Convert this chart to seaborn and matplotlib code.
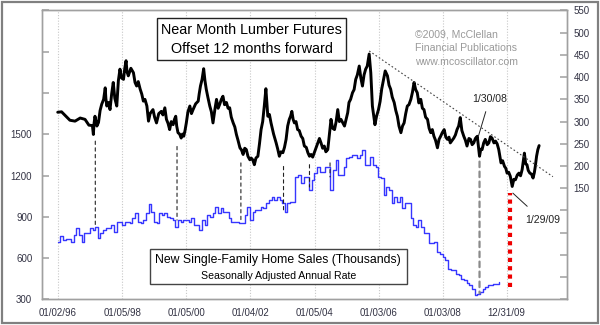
import numpy as np
import pandas as pd
import matplotlib
matplotlib.use("Agg")
import matplotlib.pyplot as plt
import matplotlib.dates as mdates
import seaborn as sns
from matplotlib.patches import Rectangle, ConnectionPatch

# ---------------- data ----------------
# Near month lumber futures, plotted 12 months forward (decimal year, $)
lumber_year = [
    1996.00, 1996.12, 1996.23, 1996.38, 1996.54, 1996.70, 1996.85, 1996.97,
    1997.08, 1997.11, 1997.13, 1997.16, 1997.22, 1997.27, 1997.32, 1997.37, 1997.43, 1997.48, 1997.50,
    1997.53, 1997.58, 1997.63, 1997.68, 1997.73, 1997.78, 1997.84, 1997.89, 1997.94, 1997.99,
    1998.05, 1998.09, 1998.13, 1998.16, 1998.20, 1998.28, 1998.36, 1998.41, 1998.46, 1998.51,
    1998.57, 1998.62, 1998.67, 1998.72, 1998.78, 1998.83, 1998.88, 1998.93, 1998.97,
    1999.02, 1999.08, 1999.15, 1999.23, 1999.28, 1999.34, 1999.39, 1999.44, 1999.49, 1999.54,
    1999.60, 1999.64, 1999.68, 1999.71, 1999.75, 1999.80, 1999.85, 1999.89, 1999.93, 1999.97,
    2000.01, 2000.06, 2000.12, 2000.17, 2000.22, 2000.30, 2000.38, 2000.41, 2000.45, 2000.50,
    2000.55, 2000.59, 2000.63, 2000.68, 2000.74, 2000.79, 2000.84, 2000.90, 2000.95,
    2001.00, 2001.05, 2001.10, 2001.15, 2001.20, 2001.26, 2001.31, 2001.36, 2001.41, 2001.47,
    2001.52, 2001.57, 2001.62, 2001.68, 2001.73, 2001.78, 2001.83, 2001.88, 2001.93, 2001.99,
    2002.03, 2002.08, 2002.13, 2002.18, 2002.24, 2002.29, 2002.34, 2002.39, 2002.44, 2002.49,
    2002.55, 2002.60, 2002.65, 2002.73, 2002.81, 2002.86, 2002.91, 2002.96,
    2003.02, 2003.07, 2003.12, 2003.17, 2003.22, 2003.26, 2003.30, 2003.34, 2003.38, 2003.43,
    2003.48, 2003.53, 2003.59, 2003.64, 2003.69, 2003.75, 2003.80, 2003.85, 2003.90, 2003.95,
    2004.00, 2004.05, 2004.11, 2004.16, 2004.21, 2004.26, 2004.31, 2004.36, 2004.42, 2004.47,
    2004.52, 2004.57, 2004.63, 2004.68, 2004.73, 2004.78, 2004.83, 2004.88, 2004.94, 2004.99,
    2005.04, 2005.08, 2005.13, 2005.19, 2005.24, 2005.29, 2005.34, 2005.40, 2005.45, 2005.50,
    2005.55, 2005.60, 2005.65, 2005.71, 2005.76, 2005.81, 2005.89, 2005.94,
    2006.00, 2006.05, 2006.10, 2006.15, 2006.21, 2006.28, 2006.33, 2006.38, 2006.43, 2006.49,
    2006.54, 2006.59, 2006.64, 2006.70, 2006.75, 2006.80, 2006.85, 2006.90, 2006.95,
    2007.01, 2007.06, 2007.11, 2007.16, 2007.21, 2007.26, 2007.32, 2007.37, 2007.42, 2007.47,
    2007.53, 2007.58, 2007.63, 2007.68, 2007.73, 2007.78, 2007.84, 2007.89, 2007.94, 2007.99,
    2008.05, 2008.10, 2008.15, 2008.20, 2008.24, 2008.30, 2008.35, 2008.40, 2008.45, 2008.50,
    2008.55, 2008.60, 2008.66, 2008.71, 2008.76, 2008.82, 2008.87, 2008.92, 2008.97,
    2009.02, 2009.08, 2009.15, 2009.19, 2009.23, 2009.28, 2009.33, 2009.39, 2009.44, 2009.49,
    2009.54, 2009.60, 2009.65, 2009.70, 2009.75, 2009.82, 2009.87, 2009.93, 2009.97,
    2010.01, 2010.06, 2010.11, 2010.17, 2010.22, 2010.27, 2010.33, 2010.38, 2010.43, 2010.48,
    2010.55, 2010.59, 2010.63, 2010.67, 2010.72, 2010.77, 2010.82, 2010.86, 2010.89, 2010.93,
    2010.97, 2011.01]
lumber_price = [
    321, 322, 314, 303, 301, 308, 305, 292,
    291, 271, 295, 312, 290, 298, 325, 339, 350, 376, 352,
    335, 343, 327, 362, 388, 352, 335, 392, 418, 398,
    395, 420, 437, 412, 403, 420, 410, 388, 380, 390,
    373, 362, 346, 350, 335, 301, 318, 323, 327,
    310, 297, 318, 323, 315, 331, 305, 296, 282, 300,
    293, 305, 312, 290, 275, 272, 263, 272, 267, 280,
    297, 322, 335, 318, 327, 340, 346, 362, 380, 395,
    419, 392, 373, 355, 335, 322, 297, 328, 350,
    330, 339, 350, 357, 338, 343, 330, 331, 310, 297,
    288, 271, 258, 241, 236, 226, 240, 237, 222, 214,
    218, 214, 203, 218, 222, 250, 282, 300, 335, 374,
    312, 316, 297, 272, 252, 238, 222, 232,
    230, 242, 260, 290, 305, 312, 323, 305, 297, 300,
    282, 280, 267, 262, 245, 242, 230, 222, 226, 220,
    230, 240, 252, 262, 252, 240, 245, 232, 237, 270,
    305, 285, 282, 300, 327, 300, 305, 298, 290, 305,
    320, 343, 350, 365, 372, 395, 405, 425, 398, 380,
    405, 418, 425, 452, 410, 335, 293, 312,
    327, 345, 373, 392, 414, 403, 382, 373, 355, 343,
    325, 312, 290, 275, 290, 297, 318, 335, 338,
    350, 366, 388, 372, 365, 342, 350, 330, 327, 310,
    305, 285, 275, 282, 267, 258, 241, 260, 267, 275,
    282, 265, 260, 265, 252, 258, 263, 270, 282, 290,
    309, 280, 267, 258, 245, 262, 260, 248, 252,
    262, 267, 222, 238, 237, 252, 260, 248, 252, 266,
    263, 252, 256, 250, 237, 207, 212, 199, 195,
    184, 186, 177, 154, 170, 169, 180, 184, 178, 192,
    229, 205, 203, 190, 184, 182, 173, 185, 199, 222,
    237, 246]

# New single-family home sales, SAAR thousands, monthly from Jan 1996
sales_start = "1996-01-01"
sales = [718, 759, 730, 735, 735, 718, 767, 820, 767, 718, 779, 779,
         815, 803, 827, 743, 779, 803, 815, 815, 840, 791, 864, 864,
         840, 864, 864, 852, 888, 925, 864, 852, 876, 925, 990, 936,
         864, 852, 925, 912, 925, 900, 888, 876, 827, 876, 864, 876,
         876, 864, 888, 840, 840, 803, 876, 840, 912, 900, 925, 973,
         925, 961, 936, 936, 888, 864, 864, 864, 852, 852, 912, 973,
         880, 936, 949, 949, 973, 961, 998, 1022, 1046, 1022, 1046, 1022,
         998, 936, 998, 1010, 1010, 1192, 1204, 1143, 1192, 1192, 1095, 1168,
         1217, 1265, 1228, 1228, 1265, 1265, 1095, 1241, 1314, 1204, 1204, 1265,
         1326, 1338, 1350, 1350, 1326, 1350, 1386, 1277, 1277, 1338, 1277, 1265,
         1192, 1180, 1058, 1119, 1095, 998, 1046, 1010, 1046, 961, 998, 998,
         888, 840, 827, 876, 827, 779, 779, 706, 706, 718, 645, 633,
         609, 584, 524, 511, 510, 487, 475, 451, 438, 419, 402, 378,
         330, 342, 353, 378, 390, 402, 402, 414, 414, 426]

# dashed connectors: lumber low -> home sales low
conn_year = [1997.17, 1999.72, 2001.71, 2003.04, 2003.85, 2004.49]
conn_lumber = [256, 244, 207, 199, 203, 207]
conn_sales = [827, 876, 863, 948, 1117, 1190]
conn2_year, conn2_lumber, conn2_sales = 2009.15, 210, 344

# red dotted marker (left axis units)
red_year, red_lo, red_hi = 2010.10, 391, 1070
# trend line (right axis units)
trend_year = [2005.71, 2011.44]
trend_val = [459, 176]

tick_dates = ["1996-01-02", "1998-01-05", "2000-01-05", "2002-01-04",
              "2004-01-05", "2006-01-03", "2008-01-03", "2009-12-31"]
tick_labels = ["01/02/96", "01/05/98", "01/05/00", "01/04/02",
               "01/05/04", "01/03/06", "01/03/08", "12/31/09"]
left_ticks = [300, 600, 900, 1200, 1500, 1800, 2100, 2400]
right_ticks = list(range(-100, 551, 50))

assert len(lumber_year) == len(lumber_price)


def yr2dt(v):
    v = np.atleast_1d(np.asarray(v, float))
    out = []
    for x in v:
        yi = int(np.floor(x))
        s, e = pd.Timestamp(yi, 1, 1), pd.Timestamp(yi + 1, 1, 1)
        out.append(s + (e - s) * (x - yi))
    return pd.to_datetime(out)


def yr2num(v):
    return float(mdates.date2num(yr2dt(v)[0].to_pydatetime()))


# ---------------- plot ----------------
sns.set_theme(style="white")
plt.rcParams['font.family'] = ['Liberation Sans', 'DejaVu Sans']

fig = plt.figure(figsize=(6, 3.25), dpi=100)
ax = fig.add_axes([0.07, 0.079, 0.8745, 0.8887])
ax2 = ax.twinx()

sales_dates = pd.date_range(sales_start, periods=len(sales), freq="MS")
sns.lineplot(x=sales_dates, y=sales, ax=ax, drawstyle="steps-post",
             color="#3636ff", lw=1.0)
lumber_dates = yr2dt(lumber_year)
sns.lineplot(x=lumber_dates, y=lumber_price, ax=ax2, color="black", lw=2.1, sort=False)

ax.set_xlim(yr2num(1995.51), yr2num(2011.87))
ax.set_ylim(300, 2400)
ax2.set_ylim(-100, 550)

ax.set_xticks(mdates.date2num(pd.to_datetime(tick_dates).to_pydatetime()))
ax.set_xticklabels(tick_labels)
ax.set_yticks(left_ticks)
ax.set_yticklabels([str(t) if t <= 1500 else "" for t in left_ticks])
ax2.set_yticks(right_ticks)
ax2.set_yticklabels([str(t) if t >= 150 else "" for t in right_ticks])
ax.set_xlabel("")
ax.set_ylabel("")
ax2.set_ylabel("")

ax.grid(axis="x", color="#c8c8c8", linestyle=(0, (1, 1.5)), lw=0.8)
ax.grid(axis="y", visible=False)
ax2.grid(False)

lab_col = "#333344"
ax.tick_params(axis="x", length=0, pad=6, labelsize=7, labelcolor=lab_col)
ax.tick_params(axis="y", direction="in", length=5, color="#aaaaaa", pad=7,
               labelsize=7, labelcolor=lab_col)
ax2.tick_params(axis="y", direction="in", length=5, color="#aaaaaa", pad=5,
                labelsize=7, labelcolor=lab_col)
for a in (ax, ax2):
    for sp in a.spines.values():
        sp.set_color("#a0a0a0")
        sp.set_linewidth(1.0)

# connectors
for yv, lv, sv in zip(conn_year, conn_lumber, conn_sales):
    d = yr2num(yv)
    cp = ConnectionPatch(xyA=(d, lv), coordsA=ax2.transData,
                         xyB=(d, sv), coordsB=ax.transData,
                         color="#222222", lw=0.8, linestyle=(0, (3, 3)))
    ax2.add_artist(cp)
d2 = yr2num(conn2_year)
cp = ConnectionPatch(xyA=(d2, conn2_lumber), coordsA=ax2.transData,
                     xyB=(d2, conn2_sales), coordsB=ax.transData,
                     color="#8a8a8a", lw=1.6, linestyle=(0, (2.5, 2)))
ax2.add_artist(cp)

ax.vlines(yr2num(red_year), red_lo, red_hi, color="#ee0000", lw=3,
          linestyles=[(0, (1, 1))])
ax2.plot([yr2num(t) for t in trend_year], trend_val, color="#444444", lw=0.8,
         linestyle=(0, (1.5, 2)))

ax2.annotate("1/30/08", xy=(yr2num(2009.11), 266), xytext=(yr2num(2009.46), 350),
             ha="center", va="center", fontsize=7.6, color="#222222",
             arrowprops=dict(arrowstyle="-", color="#222222", lw=0.7, shrinkA=3, shrinkB=0))
ax2.annotate("1/29/09", xy=(yr2num(2010.19), 139), xytext=(yr2num(2011.11), 78),
             ha="center", va="center", fontsize=7.6, color="#222222",
             arrowprops=dict(arrowstyle="-", color="#222222", lw=0.7, shrinkA=6, shrinkB=0))

# text boxes (figure pixel geometry)
W, H = 600.0, 325.0


def fbox(x0, y0, x1, y1, ec):
    fig.add_artist(Rectangle((x0 / W, 1 - y1 / H), (x1 - x0) / W, (y1 - y0) / H,
                             transform=fig.transFigure, facecolor="white",
                             edgecolor=ec, lw=1.0, zorder=5))


fbox(157, 18, 346, 60, "#222222")
fig.text(251.5 / W, 1 - 29.5 / H, "Near Month Lumber Futures", ha="center", va="center",
         fontsize=10.4, color="black", zorder=6)
fig.text(251.5 / W, 1 - 49 / H, "Offset 12 months forward", ha="center", va="center",
         fontsize=10.4, color="black", zorder=6)

fbox(150, 249, 407, 284, "#444444")
fig.text(278 / W, 1 - 259.5 / H, "New Single-Family Home Sales (Thousands)", ha="center",
         va="center", fontsize=8.8, color="black", zorder=6)
fig.text(278.5 / W, 1 - 276 / H, "Seasonally Adjusted Annual Rate", ha="center",
         va="center", fontsize=7.6, color="black", zorder=6)

fig.text(415 / W, 1 - 34.3 / H, "©2009, McClellan", ha="left", va="center",
         fontsize=7.6, color="#9a9a9a")
fig.text(415 / W, 1 - 48 / H, "Financial Publications", ha="left", va="center",
         fontsize=7.6, color="#9a9a9a")
fig.text(415 / W, 1 - 61.7 / H, "www.mcoscillator.com", ha="left", va="center",
         fontsize=7.6, color="#9a9a9a")

# outer frame
fig.add_artist(Rectangle((1.7 / W, 2.5 / H), 596 / W, 320.8 / H, transform=fig.transFigure,
                         fill=False, edgecolor="#808080", lw=1.6, zorder=10))

fig.savefig("out.png", dpi=100, facecolor="white")
